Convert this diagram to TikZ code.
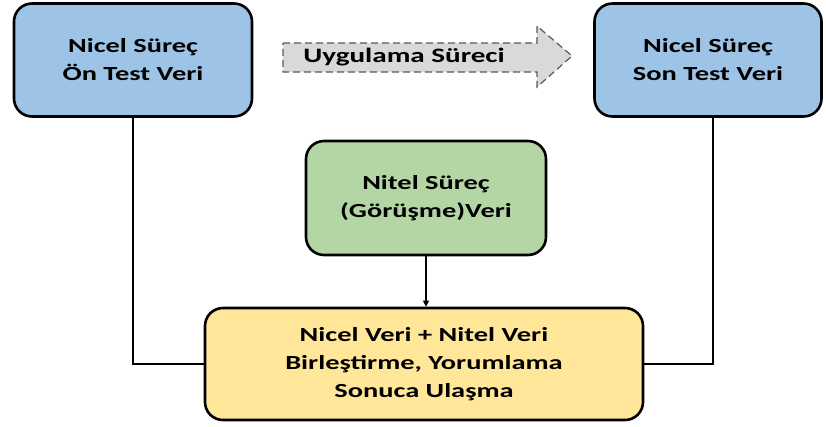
\documentclass[tikz,border=0pt]{standalone}
\usepackage{fontspec}
\setmainfont{Carlito}[FakeStretch=1.42]
\usetikzlibrary{arrows.meta}
\definecolor{boxblue}{HTML}{9DC3E6}
\definecolor{boxgreen}{HTML}{B4D6A4}
\definecolor{boxyellow}{HTML}{FFE699}
\definecolor{arrowgray}{HTML}{D9D9D9}
\definecolor{dashgray}{HTML}{595959}
\begin{document}
\begin{tikzpicture}[x=1pt,y=-1pt,
  stage/.style={draw=black,line width=2.6pt,rounded corners=18pt,align=center,
    font=\fontsize{20}{28}\selectfont\bfseries,inner sep=0pt},
  link/.style={draw=black,line width=1.1pt}]
\useasboundingbox (0,0) rectangle (826,426);
% quantitative pre/post test boxes
\node[stage,fill=boxblue,minimum width=238pt,minimum height=113pt] (pre) at (133,60)
  {Nicel Süreç\\Ön Test Veri};
\node[stage,fill=boxblue,minimum width=227pt,minimum height=113pt] (post) at (708,60)
  {Nicel Süreç\\Son Test Veri};
% qualitative interview box
\node[stage,fill=boxgreen,minimum width=240pt,minimum height=114pt] (qual) at (426,198)
  {Nitel Süreç\\(Görüşme)Veri};
% merging box
\node[stage,fill=boxyellow,minimum width=438pt,minimum height=112pt] (merge) at (424,364)
  {Nicel Veri + Nitel Veri\\Birleştirme, Yorumlama\\Sonuca Ulaşma};
% implementation process arrow
\draw[dash pattern=on 7pt off 4pt,draw=dashgray,line width=1.2pt,fill=arrowgray]
  (283,43) -- (537,43) -- (537,26) -- (572,56) -- (537,87) -- (537,72) -- (283,72) -- cycle;
\node[font=\fontsize{20.5}{24}\selectfont\bfseries] (impl) at (404,57) {Uygulama Süreci};
% connectors
\coordinate (lc) at (pre.south |- merge.west);
\coordinate (rt) at (713,117);
\coordinate (rc) at (rt |- merge.east);
\draw[link] (pre.south) -- (lc) -- (merge.west);
\draw[link] (rt) -- (rc) -- (merge.east);
\draw[link,-{Triangle[length=6pt,width=6pt]}] (qual.south) -- (qual.south |- merge.north);
\end{tikzpicture}
\end{document}
